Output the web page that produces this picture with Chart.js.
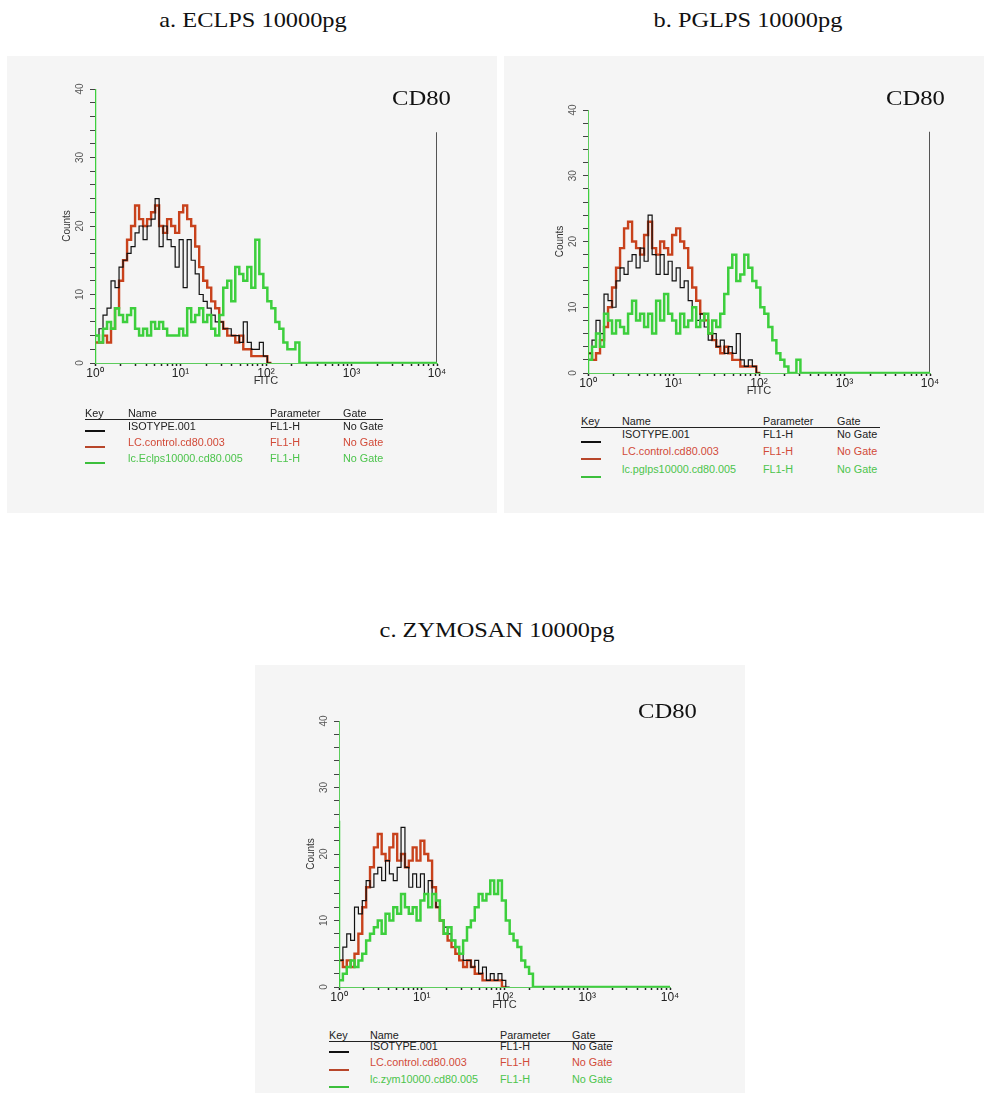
<!DOCTYPE html>
<html>
<head>
<meta charset="utf-8">
<script src="https://cdn.jsdelivr.net/npm/chart.js@4.4.0/dist/chart.umd.min.js"></script>
<style>
  html, body { margin: 0; padding: 0; background: #fff; }
  body { width: 984px; height: 1093px; position: relative; overflow: hidden;
         font-family: "Liberation Sans", Arial, sans-serif; }
  .panel { position: absolute; background: #f5f5f5; }
  canvas.plot { position: absolute; }
  .title { position: absolute; font-family: "Liberation Serif", "Times New Roman", serif;
           font-size: 21px; line-height: 24px; height: 24px; white-space: nowrap; color: #111;
           transform: translateX(-50%) scaleX(1.16); }
  .marker { position: absolute; font-family: "Liberation Serif", "Times New Roman", serif;
            font-size: 22px; line-height: 24px; height: 24px; white-space: nowrap; color: #111;
            transform-origin: left center; transform: scaleX(1.12); }
  .leg { position: absolute; font-size: 10px; line-height: 12px; height: 12px; white-space: nowrap;
         transform-origin: left center; transform: scaleX(1.08); }
  .keyline { position: absolute; height: 2px; width: 20px; }
  .rule { position: absolute; height: 1px; background: #222; }
</style>
</head>
<body>
<div class="panel" style="left:7px;top:56px;width:490px;height:457px"></div>
<div class="panel" style="left:504px;top:56px;width:480px;height:457px"></div>
<div class="panel" style="left:255px;top:665px;width:490px;height:428px"></div>

<canvas id="plotA" class="plot" width="490" height="360" style="left:7px;top:56px"></canvas>
<canvas id="plotB" class="plot" width="480" height="360" style="left:504px;top:56px"></canvas>
<canvas id="plotC" class="plot" width="490" height="360" style="left:255px;top:665px"></canvas>

<div id="labels"></div>

<script>
// ---- Histogram data: counts per 3-channel bin (256 channels over 4 decades) ----
const fitcTickLabels = ['10\u2070', '10\u00b9', '10\u00b2', '10\u00b3', '10\u2074'];
const countTicks = [0, 10, 20, 30, 40];

// a. ECLPS 10000pg
const ecIsotype = [4,5,7,8,12,11,14,15,16,17,19,20,18,20,21,24,17,20,18,17,14,18,11,18,15,13,10,9,8,7,6,6,5,5,4,4,3,6,3,2,2,3,1,0];
const ecControl = [3,3,4,3,5,8,12,15,18,20,23,21,20,21,22,23,20,19,21,20,19,22,23,21,20,17,14,12,11,9,8,6,5,4,4,3,4,2,2,1,1,1,1,0];
const ecStim    = [4,3,5,6,5,8,7,6,7,8,5,4,5,4,6,5,6,5,4,4,4,5,4,8,6,7,8,6,7,5,4,7,11,12,9,14,13,12,14,11,18,13,11,9,8,6,5,3,2,2,3,0];
const ecStimFirstChannel = 45;

// b. PGLPS 10000pg
const pgIsotype = [3,5,8,6,12,11,10,14,16,15,17,18,16,19,17,24,18,15,18,15,17,14,16,13,14,11,10,8,9,7,5,6,4,5,3,4,3,6,2,1,2,1,0];
const pgControl = [3,2,3,5,7,10,13,16,19,22,23,20,19,18,21,23,19,18,20,19,18,21,22,20,19,16,13,11,9,8,6,5,4,3,4,3,2,2,1,1,1,1,0];
const pgStim    = [2,4,6,4,9,8,6,8,7,6,9,11,8,9,7,9,6,11,8,12,9,8,6,9,7,8,10,7,8,9,6,8,7,9,12,16,18,14,15,18,16,14,13,10,9,7,5,3,2,1,0,0,2,0];
const pgStimFirstChannel = 28;

// c. ZYMOSAN 10000pg
const zyIsotype = [4,6,8,7,12,11,13,16,15,17,18,16,19,17,16,18,24,18,15,17,15,17,14,16,14,12,10,9,8,7,6,5,4,4,3,4,2,3,1,2,1,2,1,0];
const zyControl = [4,3,4,3,5,8,12,15,18,21,23,20,19,21,23,19,20,18,19,21,19,22,20,19,15,12,10,8,7,6,5,4,3,4,3,2,2,1,1,1,1,1,0];
const zyStim    = [1,2,3,4,3,4,5,7,8,9,10,8,11,10,12,11,14,12,11,12,10,13,14,12,14,13,10,8,9,7,6,5,7,9,10,12,14,13,14,16,14,16,13,10,8,7,6,4,3,2,0];
const zyStimFirstChannel = 25;

// right-hand edge line of the histogram frame (counts)
const edgeHeightA = 33.7;
const edgeHeightB = 36.7;

// legend text
const namesA = ['ISOTYPE.001', 'LC.control.cd80.003', 'lc.Eclps10000.cd80.005'];
const namesB = ['ISOTYPE.001', 'LC.control.cd80.003', 'lc.pglps10000.cd80.005'];
const namesC = ['ISOTYPE.001', 'LC.control.cd80.003', 'lc.zym10000.cd80.005'];
const legendHeader = ['Key', 'Name', 'Parameter', 'Gate'];
const parameterName = 'FL1-H';
const gateName = 'No Gate';
const panelTitles = ['a. ECLPS 10000pg', 'b. PGLPS 10000pg', 'c. ZYMOSAN 10000pg'];
const markerName = 'CD80';

// ---- drawing ----
const CHANNELS_PER_DECADE = 64;
const BIN = 3;
const COLORS = { iso: '#111111', ctrl: '#c8421c', stim: '#3dcf3d' };
const TEXT_COLORS = ['#222222', '#d24a38', '#4cc44c'];
const KEY_COLORS = ['#111111', '#b8462a', '#3cbf3c'];

function fitc(ch) { return Math.pow(10, ch / CHANNELS_PER_DECADE); }

function histPoints(counts, firstChannel, extendToEnd) {
  const pts = [];
  if (firstChannel != null) { pts.push({ x: 1, y: 0 }, { x: 1, y: firstChannel }); }
  counts.forEach((c, i) => pts.push({ x: fitc(i * BIN), y: c }));
  pts.push({ x: fitc(counts.length * BIN), y: 0 });
  if (extendToEnd) pts.push({ x: 10000, y: 0 });
  return pts;
}

function decadeTicks() {
  const t = [];
  for (let e = 0; e < 4; e++) for (let k = 1; k < 10; k++) t.push({ value: k * Math.pow(10, e) });
  t.push({ value: 10000 });
  return t;
}

function countTickList() {
  const t = [];
  for (let v = countTicks[0]; v <= countTicks[countTicks.length - 1]; v += 2) t.push({ value: v });
  return t;
}

function makeChart(id, iso, ctrl, stim, firstCh, edgeHeight, pad) {
  const datasets = [
    { data: histPoints(stim, firstCh, true), borderColor: COLORS.stim, borderWidth: 2.5 },
    { data: histPoints(iso, null, false), borderColor: COLORS.iso, borderWidth: 1.2 },
    { data: histPoints(ctrl, null, false), borderColor: COLORS.ctrl, borderWidth: 2.4 }
  ];
  if (edgeHeight != null) {
    datasets.push({ data: [{ x: 10000, y: 0 }, { x: 10000, y: edgeHeight }],
                    borderColor: '#111', borderWidth: 1.4, stepped: false });
  }
  datasets.forEach(d => {
    d.pointRadius = 0;
    if (d.stepped === undefined) d.stepped = 'before';
    d.fill = false;
  });
  return new Chart(document.getElementById(id), {
    type: 'line',
    data: { datasets },
    options: {
      responsive: false,
      animation: false,
      events: [],
      layout: { padding: pad },
      plugins: { legend: { display: false }, tooltip: { enabled: false } },
      scales: {
        x: {
          type: 'logarithmic', min: 1, max: 10000,
          afterFit: s => { s.height = 25; },
          afterBuildTicks: s => { s.ticks = decadeTicks(); },
          ticks: {
            autoSkip: false, minRotation: 0, maxRotation: 0, padding: 0,
            color: '#222', font: { size: 12 },
            callback: v => {
              const e = Math.round(Math.log10(v));
              return Math.abs(v - Math.pow(10, e)) < 1e-6 ? fitcTickLabels[e] : '';
            }
          },
          grid: { drawOnChartArea: false, drawTicks: true, tickLength: 3, tickWidth: 1.5, tickColor: '#222' },
          border: { display: true, color: '#5ccc5c', width: 1 },
          title: { display: true, text: 'FITC', color: '#333', font: { size: 11 }, padding: 0 }
        },
        y: {
          min: countTicks[0], max: countTicks[countTicks.length - 1],
          afterFit: s => { s.width = 35; },
          afterBuildTicks: s => { s.ticks = countTickList(); },
          ticks: {
            autoSkip: false, minRotation: 90, maxRotation: 90, crossAlign: 'center', padding: 4,
            color: '#555', font: { size: 10 },
            callback: v => countTicks.includes(v) ? String(v) : ''
          },
          grid: { drawOnChartArea: false, drawTicks: true, tickLength: 5, tickColor: '#444' },
          border: { display: true, color: '#5ccc5c', width: 1 },
          title: { display: true, text: 'Counts', color: '#333', font: { size: 10 }, padding: { top: 1, bottom: 0 } }
        }
      }
    }
  });
}

makeChart('plotA', ecIsotype, ecControl, ecStim, ecStimFirstChannel, edgeHeightA,
          { left: 53, top: 33, right: 60, bottom: 28 });
makeChart('plotB', pgIsotype, pgControl, pgStim, pgStimFirstChannel, edgeHeightB,
          { left: 49, top: 54, right: 54, bottom: 18 });
makeChart('plotC', zyIsotype, zyControl, zyStim, zyStimFirstChannel, null,
          { left: 49, top: 56, right: 75, bottom: 13 });

// ---- titles, marker names and key tables ----
const host = document.getElementById('labels');
function addDiv(cls, text, style) {
  const d = document.createElement('div');
  d.className = cls;
  if (text != null) d.textContent = text;
  Object.assign(d.style, style);
  host.appendChild(d);
  return d;
}

[[253, 20], [748, 20], [497, 630]].forEach((p, i) =>
  addDiv('title', panelTitles[i], { left: p[0] + 'px', top: (p[1] - 12) + 'px' }));

[[392, 98], [886, 98], [638, 711]].forEach(p =>
  addDiv('marker', markerName, { left: p[0] + 'px', top: (p[1] - 12) + 'px' }));

function keyTable(names, cols, headerY, ruleRight, rowYs, lineYs) {
  legendHeader.forEach((h, i) =>
    addDiv('leg', h, { left: cols[i] + 'px', top: (headerY - 6) + 'px', color: '#222' }));
  addDiv('rule', null, { left: cols[0] + 'px', top: (headerY + 5) + 'px', width: (ruleRight - cols[0]) + 'px' });
  names.forEach((n, r) => {
    addDiv('keyline', null, { left: cols[0] + 'px', top: (lineYs[r] - 1) + 'px', background: KEY_COLORS[r] });
    [n, parameterName, gateName].forEach((t, c) =>
      addDiv('leg', t, { left: cols[c + 1] + 'px', top: (rowYs[r] - 6) + 'px', color: TEXT_COLORS[r] }));
  });
}
keyTable(namesA, [85, 128, 270, 343], 414, 383, [427, 443, 459], [431, 447, 463]);
keyTable(namesB, [581, 622, 763, 837], 422, 880, [435, 452, 470], [442, 459, 477]);
keyTable(namesC, [329, 370, 500, 572], 1036, 613, [1047, 1063, 1080], [1052, 1070, 1087]);
</script>
</body>
</html>
